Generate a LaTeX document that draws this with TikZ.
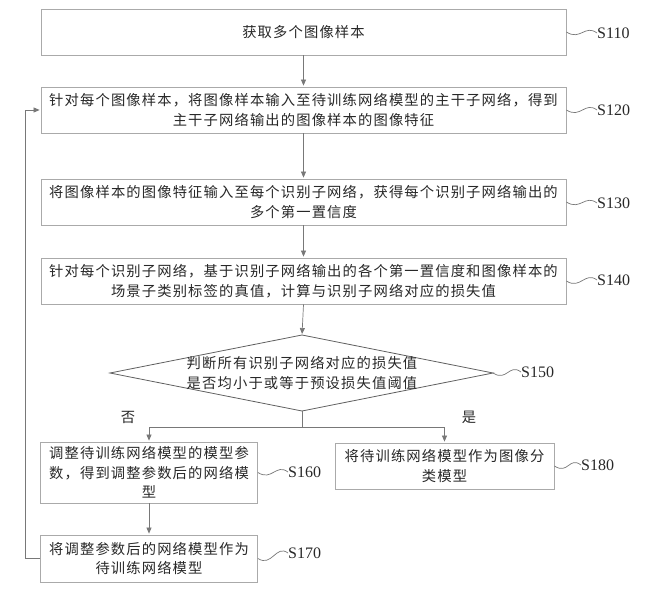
\documentclass[tikz,border=0pt]{standalone}
\usepackage{fontspec}
\setmainfont{Liberation Serif}
\newfontfamily\cjk[LetterSpace=8]{Noto Sans CJK SC}
\usepackage{xcolor}
\usetikzlibrary{arrows.meta,positioning,calc}
\definecolor{BoxGray}{RGB}{170,170,170}
\definecolor{LineGray}{RGB}{120,120,120}
\definecolor{TextDark}{RGB}{40,40,40}

\begin{document}
\begin{tikzpicture}[x=1pt,y=-1pt,
    stepbox/.style={draw=BoxGray,fill=white,line width=0.8pt,
                    minimum height=46pt,inner sep=0pt,
                    font=\cjk\fontsize{14.3}{19.5}\selectfont,text=TextDark,align=center},
    widebox/.style={stepbox,minimum width=525pt},
    smallbox/.style={stepbox,minimum width=217pt},
    steplabel/.style={font=\fontsize{16}{16}\selectfont,text=TextDark,inner sep=0pt,anchor=west},
    squiggle/.style={LineGray,line width=0.7pt},
    arrow/.style={-{Triangle[length=6pt,width=5pt]},LineGray,line width=0.7pt,shorten >=1pt}]

    \useasboundingbox (0,0) rectangle (652,593);

    % main column
    \node[widebox] (s110) at (303.5,32) {获取多个图像样本};
    \node[widebox] (s120) at (303.5,110)
      {针对每个图像样本，将图像样本输入至待训练网络模型的主干子网络，得到\\主干子网络输出的图像样本的图像特征};
    \node[widebox] (s130) at (303.5,202)
      {将图像样本的图像特征输入至每个识别子网络，获得每个识别子网络输出的\\多个第一置信度};
    \node[widebox] (s140) at (303.5,281)
      {针对每个识别子网络，基于识别子网络输出的各个第一置信度和图像样本的\\场景子类别标签的真值，计算与识别子网络对应的损失值};

    % decision
    \coordinate (d-n) at (302,335);
    \coordinate (d-e) at (493,373);
    \coordinate (d-s) at (302,411);
    \coordinate (d-w) at (110,373);
    \draw[LineGray!80!black,line width=0.8pt] (d-n) -- (d-e) -- (d-s) -- (d-w) -- cycle;
    \node[font=\cjk\fontsize{14.3}{19.5}\selectfont,text=TextDark,align=center] (s150) at (302,373)
      {判断所有识别子网络对应的损失值\\是否均小于或等于预设损失值阈值};
    \coordinate (br) at (302,427);
    \node[font=\cjk\fontsize{14.3}{14.3}\selectfont,text=TextDark] (no) at (128,417) {否};
    \node[font=\cjk\fontsize{14.3}{14.3}\selectfont,text=TextDark] (yes) at (469,417) {是};

    % branches
    \node[smallbox,minimum height=61pt] (s160) at (149,472.5)
      {调整待训练网络模型的模型参\\数，得到调整参数后的网络模\\型};
    \node[smallbox,minimum height=47pt] (s170) at (149,558.5)
      {将调整参数后的网络模型作为\\待训练网络模型};
    \node[smallbox,minimum width=219pt] (s180) at (444.5,466)
      {将待训练网络模型作为图像分\\类模型};

    % step labels
    \node[steplabel] (l110) at (597,33)  {S110};
    \node[steplabel] (l120) at (597,110) {S120};
    \node[steplabel] (l130) at (597,203) {S130};
    \node[steplabel] (l140) at (597,280) {S140};
    \node[steplabel] (l150) at (521,372) {S150};
    \node[steplabel] (l160) at (288,472) {S160};
    \node[steplabel] (l170) at (288,553) {S170};
    \node[steplabel] (l180) at (581,465) {S180};
    \foreach \s in {110,120,130,140,160,170,180} {
      \draw[squiggle] (s\s.east) .. controls +(14,9) and +(-12,-9) .. (l\s.west);
    }
    \draw[squiggle] (d-e) .. controls +(14,9) and +(-12,-9) .. (l150.west);

    % connectors
    \draw[arrow] (s110)--(s120); \draw[arrow] (s120)--(s130);
    \draw[arrow] (s130)--(s140); \draw[arrow] (s140.south)--(d-n);
    \draw[LineGray,line width=0.7pt] (d-s)--(br);
    \draw[arrow] (br) -| (s160.north);
    \draw[arrow] (br) -| (s180.north);
    \draw[arrow] (s160)--(s170);
    \draw[arrow] (s170.west) -- ++(-15,0) |- (s120.west);
  \end{tikzpicture}
\end{document}
